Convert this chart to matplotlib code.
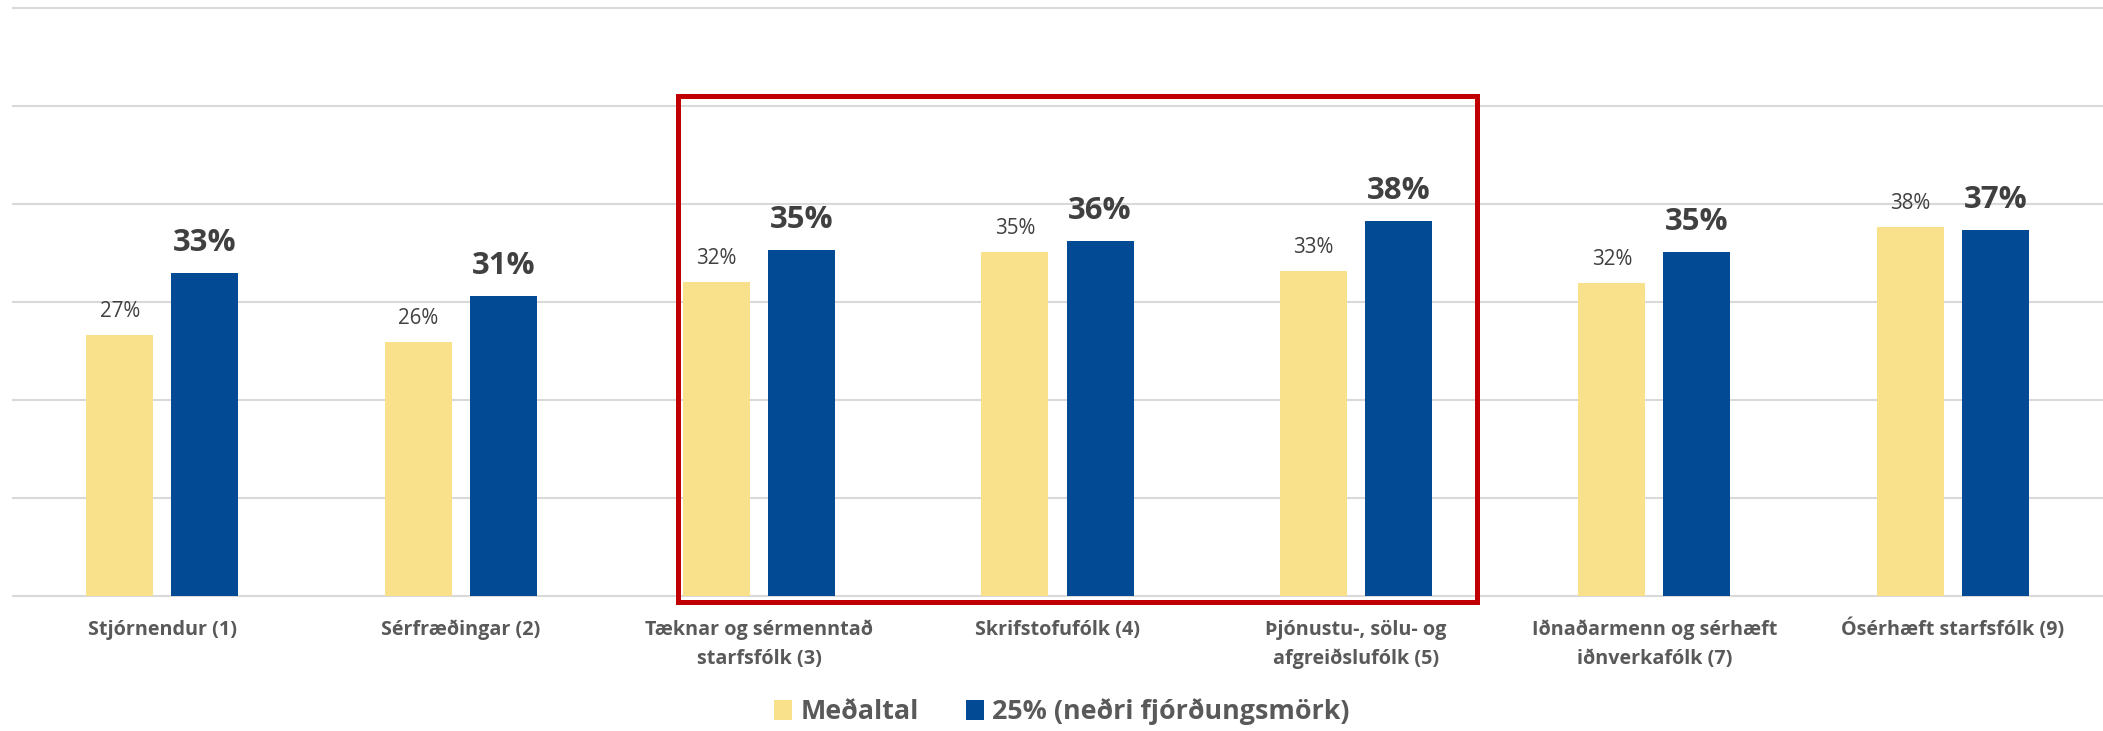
import matplotlib
matplotlib.use("Agg")
import matplotlib.pyplot as plt
from matplotlib.patches import Rectangle
import numpy as np

# ---- data ----
categories = [
    "Stjórnendur (1)",
    "Sérfræðingar (2)",
    "Tæknar og sérmenntað\nstarfsfólk (3)",
    "Skrifstofufólk (4)",
    "Þjónustu-, sölu- og\nafgreiðslufólk (5)",
    "Iðnaðarmenn og sérhæft\niðnverkafólk (7)",
    "Ósérhæft starfsfólk (9)",
]
medaltal = [26.6, 25.9, 32.1, 35.1, 33.2, 32.0, 37.7]
nedri_fjordungur = [33.0, 30.6, 35.3, 36.2, 38.3, 35.1, 37.4]
series_names = ["Meðaltal", "25% (neðri fjórðungsmörk)"]
highlight = (2, 4)  # first and last highlighted category index

YELLOW = "#F9E08B"
BLUE = "#024A94"
LABEL_GRAY = "#595959"
VALUE_GRAY = "#404040"
GRID = "#D9D9D9"
RED = "#C00000"
FONT = "Open Sans"

W, H = 2103, 731
fig = plt.figure(figsize=(W / 100, H / 100), dpi=100)
ax_left, ax_right, ax_top, ax_bot = 13, 2102, 8.4, 596
ax = fig.add_axes([ax_left / W, 1 - ax_bot / H, (ax_right - ax_left) / W, (ax_bot - ax_top) / H])

x = np.arange(len(categories))
bw = 0.2245
off = 0.1427
b1 = ax.bar(x - off, medaltal, width=bw, color=YELLOW, label=series_names[0], zorder=3)
b2 = ax.bar(x + off, nedri_fjordungur, width=bw, color=BLUE, label=series_names[1], zorder=3)

ax.set_xlim(-0.5, len(categories) - 0.5)
ax.set_ylim(0, 60)
ax.set_yticks(np.arange(0, 61, 10))
ax.set_xticks([])
ax.tick_params(axis="y", left=False, labelleft=False)
for s in ax.spines.values():
    s.set_visible(False)
ax.yaxis.grid(True, color=GRID, linewidth=1.5)
ax.set_axisbelow(True)
for gl in ax.get_ygridlines():
    gl.set_clip_on(False)

# value labels
for xi, v in zip(x, medaltal):
    ax.annotate(f"{v:.0f}%", (xi - off, v), xytext=(0, 18), textcoords="offset pixels",
                ha="center", va="baseline", fontsize=14.8, family=FONT, color=VALUE_GRAY)
for xi, v in zip(x, nedri_fjordungur):
    ax.annotate(f"{v:.0f}%", (xi + off, v), xytext=(0, 22), textcoords="offset pixels",
                ha="center", va="baseline", fontsize=22.4, family=FONT, weight="bold",
                color=VALUE_GRAY)

# category labels
tr = ax.get_xaxis_transform()
line_px = 29
first_base = (ax_bot - 635) / (ax_bot - ax_top)
step = line_px / (ax_bot - ax_top)
for xi, lab in zip(x, categories):
    for i, line in enumerate(lab.split("\n")):
        ax.text(xi, first_base - i * step, line, transform=tr, ha="center", va="baseline",
                fontsize=14.2, family=FONT, weight="bold", color=LABEL_GRAY)

# highlight rectangle
px_per_unit = (ax_bot - ax_top) / 60
x0 = highlight[0] - 0.270
x1 = highlight[1] + 0.406
y0 = -6 / px_per_unit
y1 = (ax_bot - 95.5) / px_per_unit
ax.add_patch(Rectangle((x0, y0), x1 - x0, y1 - y0, fill=False, edgecolor=RED,
                       linewidth=3.6, clip_on=False, zorder=5))

# legend
fs_leg = 19.4
leg = fig.legend(handles=[b1, b2], labels=series_names, loc="center",
                 bbox_to_anchor=(1062 / W, 1 - 712 / H), ncol=2, frameon=False,
                 prop={"family": FONT, "weight": "bold", "size": fs_leg},
                 handlelength=0.67, handleheight=0.79, handletextpad=0.3,
                 columnspacing=1.75, borderpad=0, borderaxespad=0)
for t in leg.get_texts():
    t.set_color(LABEL_GRAY)

fig.savefig("out.png", dpi=100)
